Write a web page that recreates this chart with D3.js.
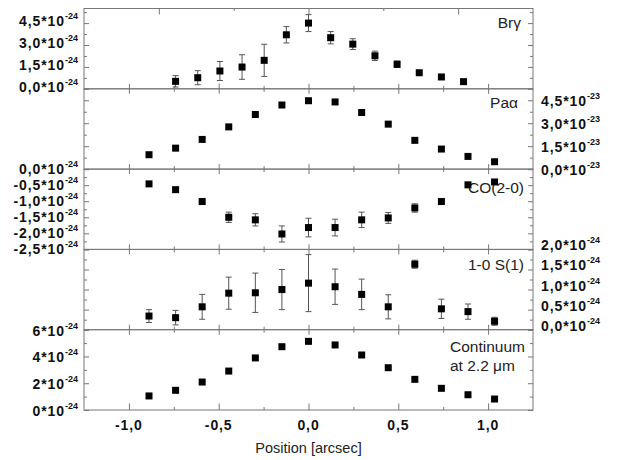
<!DOCTYPE html>
<html>
<head>
<meta charset="utf-8">
<script src="https://cdn.jsdelivr.net/npm/d3@7"></script>
<style>
  body { margin: 0; background: #fff; }
  text { font-family: "Liberation Sans", Arial, sans-serif; }
</style>
</head>
<body>
<div id="chart"></div>
<script>
// positions along the slit (arcsec), same for all five profiles
const positions = [-0.888, -0.740, -0.592, -0.444, -0.296, -0.148, 0.0, 0.148, 0.296, 0.444, 0.592, 0.740, 0.888, 1.036];

// Br gamma (x 10^-24)
const brgValues = [0.51, 0.76, 1.22, 1.49, 1.95, 3.70, 4.50, 3.50, 3.06, 2.26, 1.68, 1.10, 0.81, 0.49];
const brgErrors = [0.39, 0.48, 0.65, 0.84, 1.10, 0.56, 0.58, 0.42, 0.37, 0.32, 0.22, 0.15, 0.12, 0.10];

// Pa alpha (x 10^-23)
const paaValues = [0.94, 1.37, 1.94, 2.76, 3.57, 4.19, 4.47, 4.39, 3.70, 2.94, 1.88, 1.31, 0.83, 0.48];

// CO(2-0) (x 10^-24)
const coValues = [-0.46, -0.64, -1.01, -1.50, -1.58, -2.02, -1.82, -1.82, -1.58, -1.52, -1.21, -1.01, -0.49, -0.40];
const coErrors = [0.04, 0.05, 0.07, 0.16, 0.19, 0.25, 0.29, 0.26, 0.24, 0.17, 0.13, 0.06, 0.05, 0.05];

// H2 1-0 S(1) (x 10^-24)
const s1Values = [0.34, 0.30, 0.57, 0.91, 0.92, 1.00, 1.16, 1.07, 0.88, 0.57, 1.63, 0.52, 0.45, 0.21];
const s1Errors = [0.16, 0.18, 0.31, 0.40, 0.49, 0.50, 0.71, 0.44, 0.38, 0.30, 0.10, 0.24, 0.19, 0.10];

// continuum at 2.2 micron (x 10^-24)
const contValues = [1.05, 1.47, 2.09, 2.91, 3.89, 4.73, 5.13, 4.86, 4.11, 3.16, 2.29, 1.62, 1.14, 0.82];

// tick values
const xTicks = [-1.0, -0.5, 0.0, 0.5, 1.0];
const xMinorTicks = [-0.75, -0.25, 0.25, 0.75];
const brgTopTicks = [-1, 0, 1];
const brgTopMinor = [-0.5, 0.5];

const width = 619;
const height = 460;
const margin = { top: 8.5, right: 86, bottom: 50, left: 84 };
const plotRight = width - margin.right;
const panelH = (height - margin.bottom - margin.top) / 5;

const svg = d3.select("#chart")
    .append("svg")
    .attr("width", width)
    .attr("height", height);

const x = d3.scaleLinear()
    .domain([-1.25, 1.25])
    .range([margin.left, plotRight]);

// Br gamma panel is drawn on its own wider x scale
const xBrg = d3.scaleLinear()
    .domain([-1.5, 1.5])
    .range([margin.left, plotRight]);

const panels = [
    { name: "Brγ", values: brgValues, errors: brgErrors, domain: [0, 5.5], xs: xBrg,
      major: [0, 1.5, 3.0, 4.5], minor: [0.75, 2.25, 3.75, 5.25], side: "left", exp: "-24", fmt: ".1f", dy: 3,
      label: ["Brγ"], lx: 521, ly: [28], anchor: "end" },
    { name: "Paα", values: paaValues, errors: null, domain: [0, 5.25], xs: x,
      major: [0, 1.5, 3.0, 4.5], minor: [0.75, 2.25, 3.75], side: "right", exp: "-23", fmt: ".1f", dy: 6,
      label: ["Paα"], lx: 518, ly: [108], anchor: "end" },
    { name: "CO", values: coValues, errors: coErrors, domain: [-2.5, 0], xs: x,
      major: [-2.5, -2.0, -1.5, -1.0, -0.5, 0], minor: [-2.25, -1.75, -1.25, -0.75, -0.25], side: "left", exp: "-24", fmt: ".1f", dy: 5,
      label: ["CO(2-0)"], lx: 524, ly: [193], anchor: "end" },
    { name: "S1", values: s1Values, errors: s1Errors, domain: [0, 2.0], xs: x,
      major: [0, 0.5, 1.0, 1.5, 2.0], minor: [0.25, 0.75, 1.25, 1.75], side: "right", exp: "-24", fmt: ".1f", dy: 1,
      label: ["1-0 S(1)"], lx: 524, ly: [270], anchor: "end" },
    { name: "cont", values: contValues, errors: null, domain: [0, 6], xs: x,
      major: [0, 2, 4, 6], minor: [1, 3, 5], side: "left", exp: "-24", fmt: ".0f", dy: 6,
      label: ["Continuum", "at 2.2 μm"], lx: 450, ly: [351.5, 370.5], anchor: "start" }
];

const axisColor = "#777";

function styleAxis(g) {
    g.select(".domain").remove();
    g.selectAll("line").attr("stroke", axisColor).attr("stroke-width", 1);
    g.selectAll("text").remove();
}

function tickLabel(g, px, py, anchor, value, fmt, exp) {
    const s = d3.format(fmt)(value).replace(".", ",").replace("−", "-");
    const t = g.append("text")
        .attr("x", px)
        .attr("y", py)
        .attr("text-anchor", anchor)
        .attr("font-weight", "bold")
        .attr("fill", "#111");
    t.append("tspan")
        .attr("font-size", 14)
        .attr("letter-spacing", "0.9px")
        .text(s + "*10");
    t.append("tspan")
        .attr("font-size", 9)
        .attr("dy", -7)
        .text(exp);
}

panels.forEach((p, i) => {
    const y0 = margin.top + i * panelH;
    const y1 = y0 + panelH;
    const y = d3.scaleLinear().domain(p.domain).range([y1, y0]);
    const xs = p.xs;
    const g = svg.append("g");

    // y ticks, inward on both sides
    [p.major, p.minor].forEach((vals, k) => {
        const len = k === 0 ? 5 : 3;
        g.append("g")
            .attr("transform", `translate(${margin.left},0)`)
            .call(d3.axisLeft(y).tickValues(vals).tickSize(-len))
            .call(styleAxis);
        g.append("g")
            .attr("transform", `translate(${plotRight},0)`)
            .call(d3.axisRight(y).tickValues(vals).tickSize(-len))
            .call(styleAxis);
    });

    // x ticks, inward on top and bottom
    const topScale = i === 0 ? xBrg : x;
    const topMajor = i === 0 ? brgTopTicks : xTicks;
    const topMinor = i === 0 ? brgTopMinor : xMinorTicks;
    g.append("g")
        .attr("transform", `translate(0,${y0})`)
        .call(d3.axisTop(topScale).tickValues(topMajor).tickSize(i === 0 ? -6 : -5))
        .call(styleAxis);
    g.append("g")
        .attr("transform", `translate(0,${y0})`)
        .call(d3.axisTop(topScale).tickValues(topMinor).tickSize(i === 0 ? -2.5 : -3))
        .call(styleAxis);
    g.append("g")
        .attr("transform", `translate(0,${y1})`)
        .call(d3.axisBottom(x).tickValues(xTicks).tickSize(i === 4 ? -6.5 : -5))
        .call(styleAxis);
    g.append("g")
        .attr("transform", `translate(0,${y1})`)
        .call(d3.axisBottom(x).tickValues(xMinorTicks).tickSize(-3))
        .call(styleAxis);

    // frame
    g.append("rect")
        .attr("x", margin.left)
        .attr("y", y0)
        .attr("width", plotRight - margin.left)
        .attr("height", panelH)
        .attr("fill", "none")
        .attr("stroke", axisColor)
        .attr("stroke-width", 1);

    // tick labels with exponent
    p.major.forEach(v => {
        const py = y(v) + p.dy;
        if (p.side === "left") {
            tickLabel(g, margin.left - 6, py, "end", v, p.fmt, p.exp);
        } else {
            tickLabel(g, plotRight + 8, py, "start", v, p.fmt, p.exp);
        }
    });

    // error bars
    if (p.errors) {
        const eb = g.append("g").attr("stroke", "#555").attr("stroke-width", 1);
        positions.forEach((px, j) => {
            const cx = xs(px);
            const ya = y(p.values[j] - p.errors[j]);
            const yb = y(p.values[j] + p.errors[j]);
            eb.append("line").attr("x1", cx).attr("x2", cx).attr("y1", ya).attr("y2", yb);
            eb.append("line").attr("x1", cx - 3).attr("x2", cx + 3).attr("y1", ya).attr("y2", ya);
            eb.append("line").attr("x1", cx - 3).attr("x2", cx + 3).attr("y1", yb).attr("y2", yb);
        });
    }

    // panel label
    p.label.forEach((line, k) => {
        g.append("text")
            .attr("x", p.lx)
            .attr("y", p.ly[k])
            .attr("text-anchor", p.anchor)
            .attr("font-size", 15.5)
            .attr("fill", "#222")
            .text(line);
    });

    // data squares
    g.selectAll("rect.pt")
        .data(positions)
        .enter()
        .append("rect")
        .attr("class", "pt")
        .attr("x", d => xs(d) - 3.5)
        .attr("y", (d, j) => y(p.values[j]) - 3.5)
        .attr("width", 7)
        .attr("height", 7)
        .attr("fill", "#000");
});

// x tick labels
svg.append("g")
    .selectAll("text")
    .data(xTicks)
    .enter()
    .append("text")
    .attr("x", d => x(d))
    .attr("y", height - margin.bottom + 20)
    .attr("text-anchor", "middle")
    .attr("font-size", 14)
    .attr("font-weight", "bold")
    .attr("letter-spacing", "0.9px")
    .attr("fill", "#111")
    .text(d => d3.format(".1f")(d).replace(".", ",").replace("−", "-"));

// x axis title
svg.append("text")
    .attr("x", x(0))
    .attr("y", height - 7)
    .attr("text-anchor", "middle")
    .attr("font-size", 14.5)
    .attr("fill", "#222")
    .text("Position [arcsec]");
</script>
</body>
</html>
